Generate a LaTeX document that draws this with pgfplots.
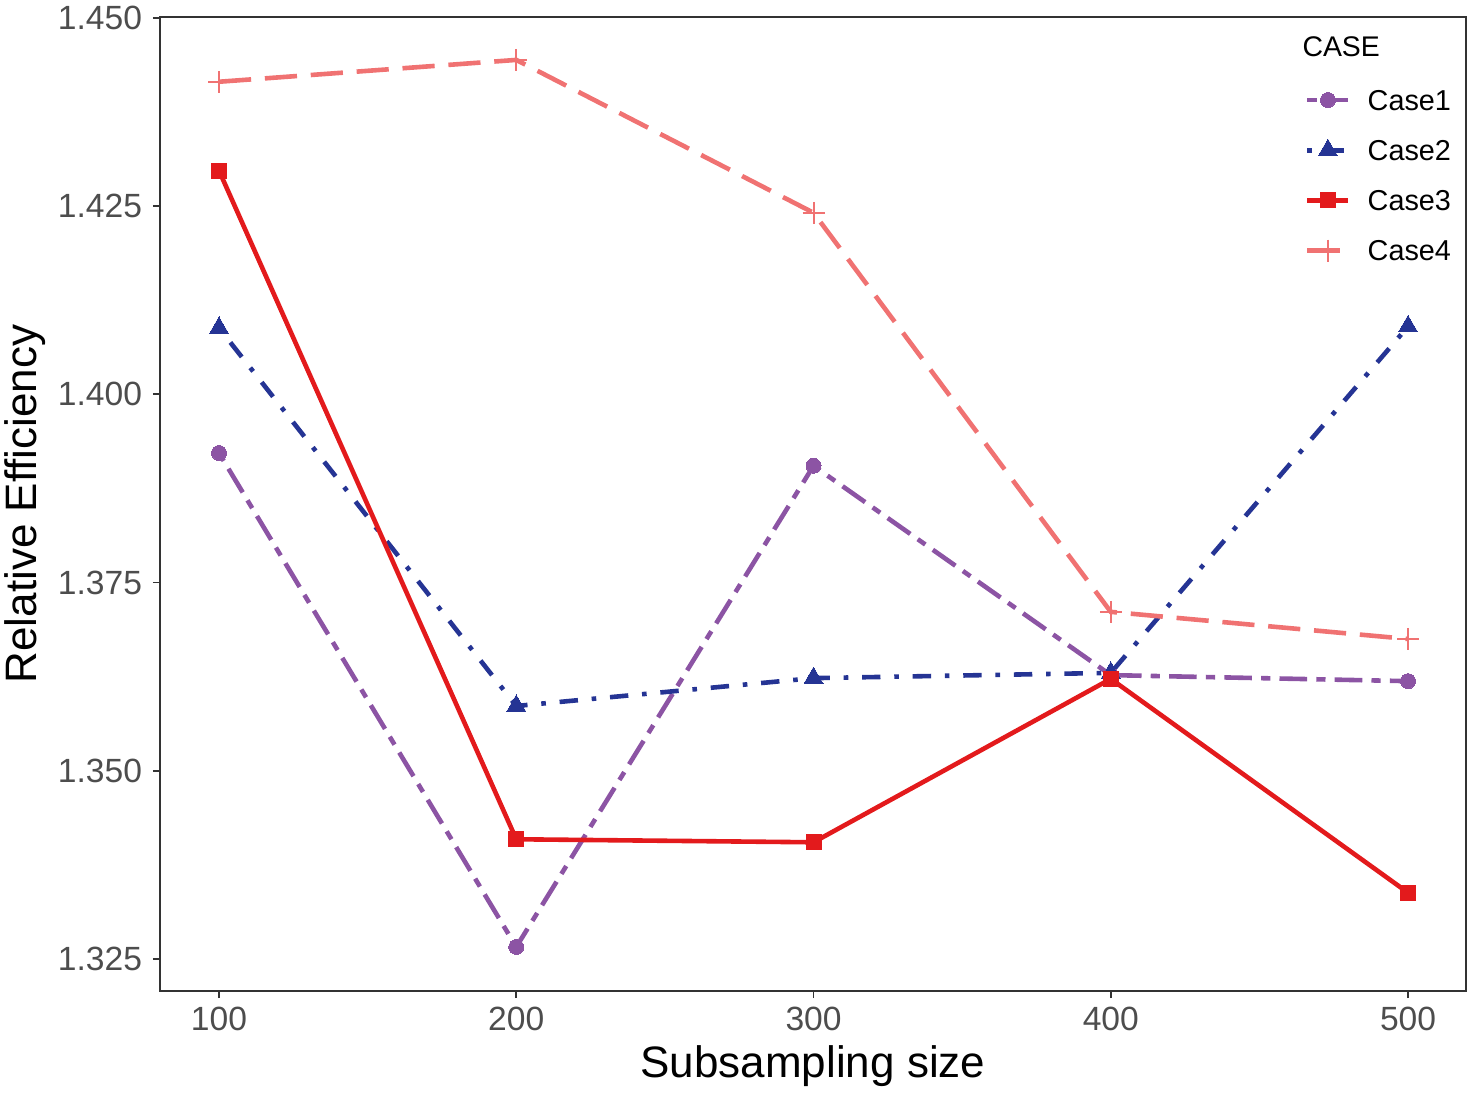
\documentclass[border=0pt]{standalone}
\usepackage{pgfplots}
\pgfplotsset{compat=1.18}
\usepackage{fontspec}
\setmainfont{Liberation Sans}
\definecolor{cpurple}{HTML}{8C54A4}
\definecolor{cblue}{HTML}{253494}
\definecolor{cred}{HTML}{E31A1C}
\definecolor{cpink}{HTML}{F07272}
\definecolor{tickgray}{HTML}{4D4D4D}
\definecolor{framegray}{HTML}{333333}
\begin{document}
\begin{tikzpicture}
\begin{axis}[
  scale only axis, width=653bp, height=487bp,
  at={(0,0)}, anchor=south west,
  xmin=80.15, xmax=519.5, ymin=1.32075, ymax=1.4501,
  xtick={100,200,300,400,500},
  ytick={1.325,1.350,1.375,1.400,1.425,1.450},
  axis line style={framegray, line width=0.8bp},
  tick style={framegray, line width=0.8bp},
  tick align=outside, major tick length=3.5bp,
  xtick pos=bottom, ytick pos=left,
  /pgf/number format/assume math mode=true,
  y tick label style={/pgf/number format/fixed, /pgf/number format/fixed zerofill, /pgf/number format/precision=3},
  xticklabel style={anchor=north, inner sep=0pt, yshift=-4.5bp, text=tickgray, font=\fontsize{16.8bp}{19bp}\selectfont},
  yticklabel style={anchor=east, inner sep=0pt, xshift=-5.3bp, text=tickgray, font=\fontsize{16.8bp}{19bp}\selectfont},
  scaled y ticks=false,
  xlabel={Subsampling size},
  ylabel={Relative Efficiency},
  xlabel style={at={(axis description cs:0.5,0)}, anchor=base, yshift=-43bp, inner sep=0pt, font=\fontsize{22bp}{26bp}\selectfont},
  ylabel style={at={(axis description cs:-0.10337,0.5)}, anchor=center, inner sep=0pt, font=\fontsize{22bp}{26bp}\selectfont},
  legend cell align=left,
  legend style={at={(axis description cs:0.8768,0.9405)}, anchor=north west, draw=none, fill=none,
    inner sep=0pt, outer sep=0pt, row sep=0pt, column sep=8.5bp,
    font=\fontsize{14.4bp}{16bp}\selectfont,
    nodes={inner sep=0pt, text height=17.6bp, text depth=7.5bp}},
  legend image code/.code={\draw[mark repeat=2, mark phase=2, #1] plot coordinates {(0bp,0bp) (10.25bp,0bp) (20.5bp,0bp)};},
]
\addplot[cpurple, line width=2.3bp, dash pattern=on 4.6bp off 4.6bp on 13.8bp off 4.6bp,
  mark=*, mark size=3.75bp, mark options={solid, fill=cpurple, draw=cpurple, line width=0bp}]
  coordinates {(100,1.3922) (200,1.3266) (300,1.3905) (400,1.3627) (500,1.3619)};
\addlegendentry{Case1}
\addplot[cblue, line width=2.3bp, dash pattern=on 2.3bp off 6.9bp on 9.2bp off 6.9bp,
  mark=triangle*, mark size=5.5bp, mark options={solid, fill=cblue, draw=cblue, line width=0bp}]
  coordinates {(100,1.4088) (200,1.3586) (300,1.3623) (400,1.3630) (500,1.4090)};
\addlegendentry{Case2}
\addplot[cred, line width=2.3bp, solid,
  mark=square*, mark size=3.75bp, mark options={solid, fill=cred, draw=cred, line width=0bp}]
  coordinates {(100,1.4297) (200,1.3409) (300,1.3405) (400,1.3622) (500,1.3338)};
\addlegendentry{Case3}
\addplot[cpink, line width=2.3bp, dash pattern=on 16.1bp off 6.9bp,
  mark=+, mark size=5.5bp, mark options={solid, draw=cpink, line width=1bp}]
  coordinates {(100,1.4415) (200,1.4444) (300,1.4241) (400,1.3711) (500,1.3675)};
\addlegendentry{Case4}
\node[anchor=west, inner sep=0pt, font=\fontsize{14.2bp}{16bp}\selectfont] at (axis description cs:0.8745,0.9692) {CASE};
\end{axis}
\path[use as bounding box] (-80bp,-52.5bp) rectangle (659bp,495.5bp);
\end{tikzpicture}
\end{document}
